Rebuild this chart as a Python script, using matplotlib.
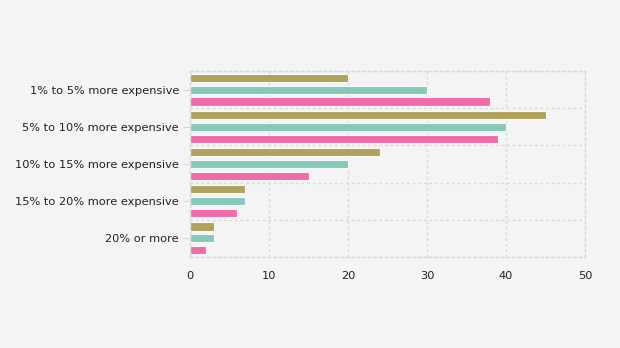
import matplotlib
matplotlib.use("Agg")
import matplotlib.pyplot as plt
import numpy as np

categories = ["1% to 5% more expensive", "5% to 10% more expensive",
              "10% to 15% more expensive", "15% to 20% more expensive", "20% or more"]
series_a = [20, 45, 24, 7, 3]
series_b = [30, 40, 20, 7, 3]
series_c = [38, 39, 15, 6, 2]
x_ticks = [0, 10, 20, 30, 40, 50]

colors = ["#b0a25a", "#85c9ba", "#f06ca8"]
bg = "#f4f4f4"

fig = plt.figure(figsize=(6.2, 3.48), dpi=100, facecolor=bg)
ax = fig.add_axes([190/620, 1-257/348, 395/620, 186/348], facecolor=bg)

y = np.arange(len(categories))
step = 0.32
h = 0.22
for i, (vals, c) in enumerate(zip([series_a, series_b, series_c], colors)):
    ax.barh(y + (i-1)*step, vals, height=h, color=c, edgecolor="#f8f8f8", linewidth=0.8, zorder=2)

ax.set_xlim(0, 50)
ax.set_ylim(len(categories)-0.5, -0.5)
ax.set_xticks(x_ticks)
ax.set_yticks(y)
ax.set_yticklabels(categories)
ax.set_yticks(np.arange(-0.5, len(categories)), minor=True)

grid_kw = dict(color="#d9d9d9", linestyle=(0, (2, 2)), linewidth=1.0)
ax.grid(axis="x", which="major", zorder=0, **grid_kw)
ax.grid(axis="y", which="minor", zorder=0, **grid_kw)
for s in ax.spines.values():
    s.set_color("#d9d9d9")
    s.set_linestyle((0, (2, 2)))
    s.set_linewidth(1.0)

ax.tick_params(axis="y", which="major", length=5, color="#d9d9d9", labelsize=8.2, labelcolor="#222222", pad=3)
ax.tick_params(axis="y", which="minor", length=0)
ax.tick_params(axis="x", length=0, labelsize=8.2, labelcolor="#222222", pad=10)

fig.savefig("out.png", dpi=100, facecolor=bg)
